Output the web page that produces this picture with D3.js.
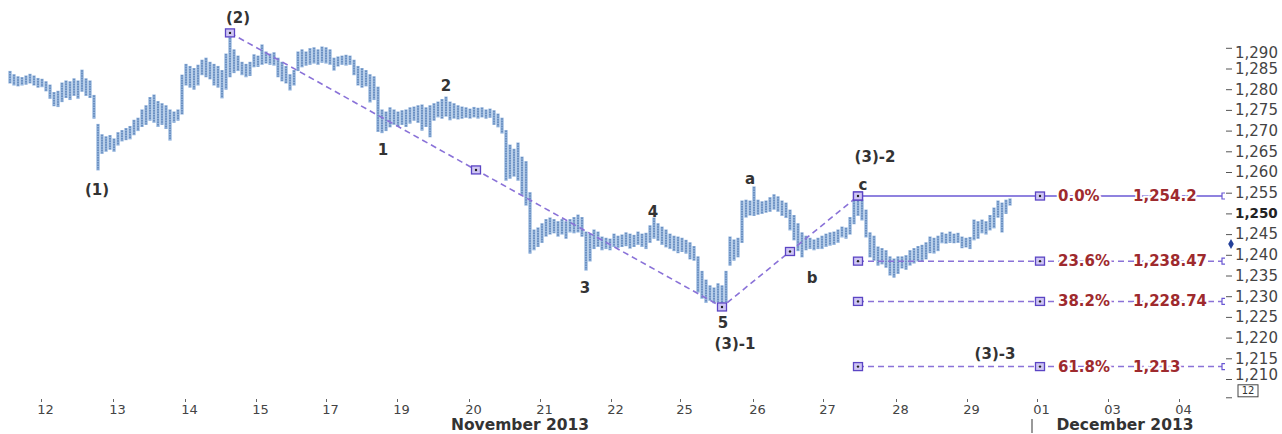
<!DOCTYPE html>
<html><head><meta charset="utf-8">
<script src="https://cdn.jsdelivr.net/npm/d3@7"></script>
<style>
html,body{margin:0;padding:0;background:#fff;}
svg{display:block;font-family:"DejaVu Sans",Verdana,sans-serif;}
</style></head><body>
<svg id="c" width="1282" height="434"></svg>
<script>
// ---- data (hourly bars: high / low) ----
const highs = [
1284.3,1283.5,1283.0,1282.8,1283.2,1283.6,1283.2,1282.6,1282.4,1281.8,
1281.0,1279.2,1279.5,1281.5,1282.0,1281.8,1282.5,1282.0,1284.6,1282.5,
1282.0,1278.5,1271.5,1269.0,1268.5,1268.8,1268.0,1269.5,1270.0,1270.5,
1271.0,1272.5,1273.0,1275.0,1276.0,1278.0,1278.6,1277.0,1276.5,1276.0,
1275.0,1274.5,1275.0,1283.4,1286.0,1285.5,1285.0,1285.8,1287.0,1287.5,
1286.5,1286.0,1285.5,1284.5,1288.5,1293.6,1289.5,1288.0,1286.5,1286.0,
1286.5,1288.3,1288.0,1290.7,1289.0,1288.5,1288.8,1287.5,1286.5,1285.5,
1283.5,1284.5,1289.0,1289.5,1289.0,1289.8,1290.0,1289.5,1290.2,1290.0,
1289.5,1287.5,1287.8,1288.0,1288.2,1288.0,1287.0,1285.5,1285.0,1284.5,
1283.5,1283.0,1280.5,1275.0,1274.5,1275.5,1275.0,1274.5,1274.8,1275.0,
1275.5,1275.7,1276.0,1276.2,1275.5,1276.0,1276.5,1276.9,1277.5,1278.1,
1276.9,1276.5,1276.0,1275.7,1275.5,1275.2,1275.6,1275.4,1275.5,1275.0,
1275.2,1274.8,1274.0,1273.0,1270.0,1266.5,1265.5,1267.0,1263.6,1262.5,
1255.0,1246.0,1246.5,1247.5,1248.5,1248.9,1248.5,1248.0,1248.5,1248.0,
1248.5,1249.0,1249.6,1249.0,1245.5,1245.0,1246.0,1245.5,1244.3,1244.0,
1243.8,1245.0,1244.5,1244.8,1245.3,1245.0,1244.7,1245.5,1245.0,1245.2,
1247.0,1248.9,1247.5,1246.7,1246.0,1245.0,1244.5,1244.3,1244.0,1243.5,
1242.9,1242.0,1239.5,1236.0,1233.9,1232.5,1232.0,1233.0,1232.5,1236.0,
1244.3,1243.6,1244.0,1253.0,1253.2,1253.0,1256.4,1253.2,1252.8,1253.0,
1253.8,1254.5,1254.0,1253.0,1252.5,1250.8,1249.5,1247.5,1245.3,1244.5,
1244.0,1243.6,1244.0,1244.5,1245.0,1245.3,1245.5,1246.0,1246.7,1246.5,
1249.0,1253.2,1254.2,1253.2,1250.8,1245.3,1244.5,1241.9,1241.5,1241.0,
1239.5,1239.0,1239.5,1239.5,1239.8,1241.0,1241.5,1242.0,1242.3,1242.9,
1244.3,1244.0,1244.5,1245.3,1245.0,1245.5,1245.0,1245.2,1244.3,1244.0,
1244.2,1248.4,1248.0,1248.4,1248.0,1249.5,1251.3,1253.0,1252.5,1253.2,
1253.5];
const lows = [
1281.5,1281.0,1280.8,1281.0,1281.2,1281.5,1281.0,1280.5,1280.6,1279.6,
1277.8,1276.0,1275.8,1277.0,1278.0,1277.5,1278.5,1277.8,1279.5,1278.5,
1278.0,1273.0,1260.5,1264.5,1265.0,1265.5,1265.0,1266.5,1267.5,1267.8,
1268.0,1269.0,1270.0,1271.0,1271.5,1272.5,1272.0,1271.0,1271.5,1270.5,
1267.7,1272.0,1272.5,1274.0,1281.0,1280.5,1280.0,1281.0,1283.5,1283.0,
1282.5,1281.0,1280.5,1277.9,1280.0,1283.0,1284.0,1284.5,1283.5,1283.0,
1283.3,1285.4,1285.5,1286.0,1286.3,1286.0,1285.8,1283.0,1282.0,1281.5,
1279.8,1281.0,1284.5,1285.4,1285.8,1286.0,1286.3,1286.0,1286.5,1286.3,
1286.0,1284.6,1285.6,1286.0,1285.8,1286.0,1283.5,1281.0,1280.5,1280.8,
1276.9,1277.5,1269.8,1269.5,1270.0,1270.9,1271.5,1271.0,1271.5,1271.0,
1271.8,1272.5,1272.0,1270.1,1271.0,1268.5,1272.5,1273.3,1273.0,1273.5,
1272.6,1273.0,1272.8,1273.0,1273.2,1273.0,1273.3,1273.0,1273.3,1273.0,
1273.2,1271.5,1270.9,1269.4,1258.0,1258.5,1259.0,1258.0,1254.5,1252.0,
1240.4,1241.2,1242.0,1243.0,1244.5,1245.0,1245.3,1244.5,1245.0,1244.0,
1245.5,1245.3,1245.5,1244.5,1236.3,1238.5,1241.5,1242.0,1241.2,1241.5,
1241.2,1242.0,1241.8,1242.0,1242.2,1241.6,1242.0,1242.5,1242.0,1241.5,
1243.0,1244.0,1243.5,1242.5,1241.9,1241.5,1241.0,1240.5,1240.8,1240.4,
1239.0,1238.7,1231.0,1229.5,1228.5,1229.0,1228.4,1228.6,1227.4,1228.6,
1237.5,1238.7,1239.5,1243.0,1249.1,1249.6,1249.5,1249.8,1250.0,1250.3,
1250.5,1251.0,1250.5,1249.5,1249.0,1246.0,1243.6,1241.0,1239.5,1241.2,
1241.5,1241.2,1241.5,1241.5,1242.0,1242.3,1242.5,1243.0,1244.3,1244.0,
1245.0,1247.5,1249.5,1248.4,1244.3,1239.5,1238.7,1237.5,1237.8,1237.0,
1235.1,1234.6,1235.5,1236.8,1236.5,1237.5,1238.0,1238.5,1238.5,1239.0,
1240.5,1240.4,1241.0,1242.9,1242.8,1243.0,1242.9,1243.0,1241.7,1241.9,
1241.5,1243.6,1244.0,1245.3,1245.0,1246.0,1246.5,1249.1,1245.5,1250.0,
1252.0];

// x axis: session ticks (in bar-index units)
const dayLabels = ["12","13","14","15","17","19","20","21","22","25","26","27","28","29","01","03","04"];
const dayTickIdx = [7.75,25.75,43.75,61.5,79,96.75,114.75,132.5,150.25,167.5,185.75,203.25,221.5,239.25,256.75,274.5,292.25];
const monthLabels = ["November 2013","December 2013"];
const monthIdx = [127.5,278.75];
const monthSepIdx = 255.5;

// y axis ticks
const yTicks = d3.range(1210, 1291, 5);
const boldTick = 1250;

// Elliott wave pivots
const waveIdx = [55,178,212];
const waveVal = [1293.6,1227.4,1254.2];

// Fibonacci retracement
const fibPct = ["0.0%","23.6%","38.2%","61.8%"];
const fibVal = [1254.2,1238.47,1228.74,1213];
const fibValText = ["1,254.2","1,238.47","1,228.74","1,213"];
const fibStartIdx = 212, fibMidIdx = 257.5, fibEndIdx = 303;
const fibPctIdx = 262, fibValIdx = 280.75;

// wave annotations
const annText = ["(2)","(1)","1","2","3","4","5","(3)-1","a","b","c","(3)-2","(3)-3"];
const annIdx  = [57,21.75,93.25,109,143.75,160.75,178.25,181.25,185,200.5,213.25,216.25,246.25];
const annVal  = [1297.2,1255.65,1265.3,1280.8,1232.0,1250.3,1223.5,1218.5,1258.3,1234.4,1256.9,1263.6,1216.0];

const lastMarkerVal = 1242.6;
const periodLabel = "12";

// ---- drawing ----
const svg = d3.select("#c");
const x = d3.scaleLinear().domain([0, 250]).range([10, 1010]);
const y = d3.scaleLinear().domain([1210, 1290]).range([379, 47.8]);

const bars = highs.map((h, i) => ({i, h, l: lows[i]}));
const gBars = svg.append("g");
gBars.selectAll("line.o").data(bars).join("line")
  .attr("x1", d => x(d.i)).attr("x2", d => x(d.i))
  .attr("y1", d => y(d.h) - 0.5).attr("y2", d => y(d.l) + 0.5)
  .attr("stroke", "#94b5de").attr("stroke-width", 3.3);
gBars.selectAll("line.c").data(bars).join("line")
  .attr("x1", d => x(d.i)).attr("x2", d => x(d.i))
  .attr("y1", d => y(d.h)).attr("y2", d => y(d.l))
  .attr("stroke", "#4a70a8").attr("stroke-width", 1.1)
  .attr("stroke-dasharray", "1.5,1");

// wave lines
const purple = "#8a72d8";
const wavePts = waveIdx.map((d, k) => [x(d), y(waveVal[k])]);
svg.append("path").attr("d", d3.line()(wavePts))
  .attr("fill", "none").attr("stroke", purple).attr("stroke-width", 1.6)
  .attr("stroke-dasharray", "6,4");

function box(cx, cy) {
  svg.append("rect").attr("x", cx - 4.5).attr("y", cy - 4).attr("width", 9).attr("height", 8)
    .attr("fill", "#cfc6f4").attr("stroke", "#5b45c4").attr("stroke-width", 1.3);
  svg.append("circle").attr("cx", cx).attr("cy", cy).attr("r", 1.2).attr("fill", "#222");
}

// fib lines
fibVal.forEach((v, k) => {
  const yy = y(v);
  svg.append("line").attr("x1", x(fibStartIdx)).attr("x2", x(fibEndIdx))
    .attr("y1", yy).attr("y2", yy)
    .attr("stroke", k === 0 ? "#6a58d4" : purple).attr("stroke-width", 1.5)
    .attr("stroke-dasharray", k === 0 ? null : "6,4");
  const xe = x(fibEndIdx);
  svg.append("path").attr("d", `M${xe+3},${yy-3}H${xe}V${yy+3}H${xe+3}`)
    .attr("fill", "none").attr("stroke", "#6a58d4").attr("stroke-width", 1.2);
  svg.append("text").attr("x", x(fibPctIdx)).attr("y", yy)
    .attr("dominant-baseline", "central").attr("font-size", 15).attr("font-weight", "bold")
    .attr("fill", "#9e2a2e").attr("stroke", "#fff").attr("stroke-width", 4)
    .attr("paint-order", "stroke").text(fibPct[k]);
  svg.append("text").attr("x", x(fibValIdx)).attr("y", yy)
    .attr("dominant-baseline", "central").attr("font-size", 15).attr("font-weight", "bold")
    .attr("fill", "#9e2a2e").attr("stroke", "#fff").attr("stroke-width", 4)
    .attr("paint-order", "stroke").text(fibValText[k]);
  box(x(fibStartIdx), yy);
  box(x(fibMidIdx), yy);
});

// wave boxes
wavePts.forEach(p => box(p[0], p[1]));
for (let k = 0; k < wavePts.length - 1; k++) {
  box((wavePts[k][0] + wavePts[k+1][0]) / 2, (wavePts[k][1] + wavePts[k+1][1]) / 2);
}

// annotations
svg.append("g").selectAll("text").data(annText).join("text")
  .attr("x", (d, k) => x(annIdx[k])).attr("y", (d, k) => y(annVal[k]))
  .attr("text-anchor", "middle").attr("dominant-baseline", "central")
  .attr("font-size", 15).attr("font-weight", "bold").attr("fill", "#333")
  .text(d => d);

// right axis
const axX = x(304);
const gy = svg.append("g").attr("transform", `translate(${axX},0)`)
  .call(d3.axisRight(y).tickValues(yTicks).tickSize(6).tickPadding(3).tickFormat(d3.format(",")));
gy.select(".domain").remove();
gy.selectAll(".tick line").attr("stroke", "#555");
gy.selectAll(".tick text").attr("font-family", "DejaVu Sans, sans-serif")
  .attr("font-size", d => d === boldTick ? 13.5 : 15)
  .attr("font-weight", d => d === boldTick ? "bold" : null)
  .attr("fill", d => d === boldTick ? "#222" : "#444")
  .attr("dy", d => d === 1290 ? "0.62em" : d === 1210 ? "0.05em" : "0.32em");

// last price marker
svg.append("path").attr("d", d3.symbol(d3.symbolDiamond, 28)())
  .attr("transform", `translate(${axX + 5},${y(lastMarkerVal)})`).attr("fill", "#24419a");

// period box
const pbY = y(1208.6);
svg.append("rect").attr("x", axX + 12).attr("y", pbY).attr("width", 20).attr("height", 12)
  .attr("fill", "#fff").attr("stroke", "#444").attr("stroke-width", 1);
svg.append("text").attr("x", axX + 22).attr("y", pbY + 6).attr("text-anchor", "middle")
  .attr("dominant-baseline", "central").attr("font-size", 10).attr("fill", "#333").text(periodLabel);
svg.append("line").attr("x1", axX).attr("x2", axX + 6).attr("y1", pbY + 13).attr("y2", pbY + 13)
  .attr("stroke", "#555");

// bottom axis
const gx = svg.append("g").attr("transform", "translate(0,399)")
  .call(d3.axisBottom(x).tickValues(dayTickIdx).tickSize(3).tickPadding(3)
    .tickFormat((d, k) => dayLabels[k]));
gx.select(".domain").remove();
gx.selectAll(".tick line").attr("stroke", "#666");
gx.selectAll(".tick text").attr("font-family", "DejaVu Sans, sans-serif").attr("font-size", 13)
  .attr("fill", "#444").attr("dx", 4);

svg.append("g").selectAll("text").data(monthLabels).join("text")
  .attr("x", (d, k) => x(monthIdx[k])).attr("y", 430)
  .attr("text-anchor", "middle")
  .attr("font-size", 15.5).attr("font-weight", "bold").attr("fill", "#333").text(d => d);
svg.append("line").attr("x1", x(monthSepIdx)).attr("x2", x(monthSepIdx))
  .attr("y1", 419).attr("y2", 433).attr("stroke", "#555").attr("stroke-width", 1.2);
</script>
</body></html>
